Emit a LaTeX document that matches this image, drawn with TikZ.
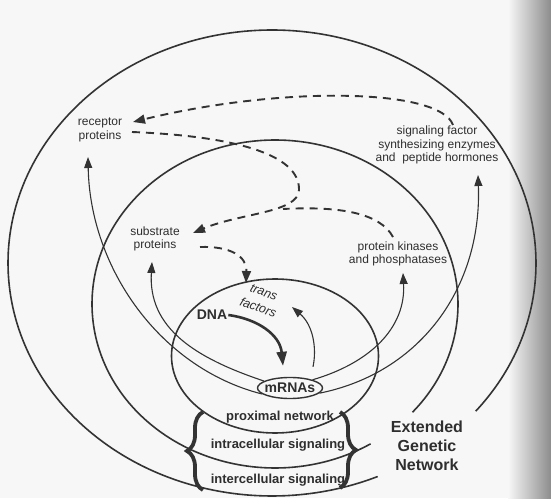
\documentclass[tikz,border=0pt]{standalone}
\usepackage{fontspec}
\setmainfont{Liberation Sans}
\usetikzlibrary{arrows.meta,decorations.pathreplacing,shapes.geometric}
\begin{document}
\begin{tikzpicture}[x=1pt,y=1pt,
  ring/.style={draw=black!80, line width=1.6pt},
  thinarrow/.style={draw=black!80, line width=1.1pt, -{Triangle[length=11pt,width=8pt]}},
  dnaarrow/.style={draw=black!80, line width=2.6pt, -{Triangle[length=14pt,width=10pt]}},
  dasharrow/.style={draw=black!80, line width=1.9pt, dash pattern=on 8pt off 6pt, -{Triangle[length=12pt,width=9pt]}},
  dashline/.style={draw=black!80, line width=1.9pt, dash pattern=on 8pt off 6pt},
  lbl/.style={font=\fontsize{12}{13.5}\selectfont, text=black!82, align=center, inner sep=1pt},
  blbl/.style={font=\fontsize{13}{15}\selectfont\bfseries, text=black!82, inner sep=1pt},
  big/.style={font=\fontsize{16}{19}\selectfont\bfseries, text=black!82, align=center, inner sep=1pt},
  tf/.style={font=\fontsize{12.5}{16.5}\selectfont\itshape, text=black!82, align=center, rotate=-20, inner sep=0pt},
  mrnabox/.style={draw=black!80, line width=1.4pt, ellipse, font=\fontsize{14}{16}\selectfont\bfseries, text=black!82, inner xsep=-4pt, inner ysep=1pt, minimum width=65pt, minimum height=21pt},
  bracestyle/.style={draw=black!80, line width=3.8pt, decorate, decoration={brace, amplitude=16pt}}
]
\useasboundingbox (0,0) rectangle (551,498);
\fill[black!3] (0,0) rectangle (551,498);
\shade[left color=black!3, right color=black!45] (508,0) rectangle (551,498);

% nested networks
\draw[ring] (272,235) ++(-39.5:264 and 233) arc[start angle=-39.5, end angle=293.6, x radius=264, y radius=233];
\draw[ring] (275,194) ++(-41.3:183 and 164) arc[start angle=-41.3, end angle=301.5, x radius=183, y radius=164];
\draw[ring] (275,142) ellipse [x radius=103.5, y radius=77];

% labels
\node[lbl] (receptor) at (100,368) {receptor\\proteins};
\node[lbl] (sigfac) at (437,353) {signaling factor\\synthesizing enzymes\\and\ \ peptide hormones};
\node[lbl] (substrate) at (155,259) {substrate\\proteins};
\node[lbl] (kinases) at (398,244) {protein kinases\\and phosphatases};
\node[font=\fontsize{14}{16}\selectfont\bfseries, text=black!82, inner sep=1pt] (dna) at (212,183) {DNA};
\node[tf] (tfac) at (261,198) {trans\\factors};
\node[mrnabox] (mrna) at (290,110) {mRNAs};
\node[blbl] (prox) at (280,81) {proximal network};
\node[blbl] (intra) at (278,53) {intracellular signaling};
\node[blbl] (inter) at (278,18) {intercellular signaling};
\node[big] (egn) at (427,52) {Extended\\Genetic\\Network};

% braces
\draw[bracestyle] (203,8) -- (203,86);
\draw[bracestyle] (340,86) -- (340,10);

% solid arrows from mRNAs
\draw[thinarrow] (mrna.192) .. controls (160,130) and (90,230) .. ([shift={(-12,-27)}]receptor.center);
\draw[thinarrow] (mrna.165) .. controls (195,140) and (148,170) .. ([shift={(-3,-23)}]substrate.center);
\draw[thinarrow] (mrna.20) .. controls (370,135) and (406,170) .. ([shift={(5,-19)}]kinases.center);
\draw[thinarrow] (mrna.-10) .. controls (420,125) and (482,210) .. ([shift={(41,-30)}]sigfac.center);
\draw[thinarrow] ([shift={(23,10)}]mrna.north) .. controls (317,150) and (313,173) .. ([shift={(31,-7)}]tfac.center);
\draw[dnaarrow] (dna.east) .. controls (258,179) and (280,163) .. ([shift={(-7,11)}]mrna.north);

% dashed feedback arrows
\coordinate (bend) at (299,308);
\coordinate (merge) at (283,289);
\draw[dasharrow] ([shift={(16,20)}]sigfac.center) .. controls (440,410) and (280,412) .. ([shift={(33,8)}]receptor.center);
\draw[dasharrow] ([shift={(32,-2)}]receptor.center) .. controls (230,362) and (300,345) .. (bend) .. controls (298,285) and (240,285) .. ([shift={(38,6)}]substrate.center);
\draw[dashline] ([shift={(-5,17)}]kinases.center) .. controls (380,285) and (340,292) .. (merge);
\draw[dasharrow] ([shift={(45,-8)}]substrate.center) .. controls (230,252) and (247,242) .. ([shift={(-15,17)}]tfac.center);
\end{tikzpicture}
\end{document}
